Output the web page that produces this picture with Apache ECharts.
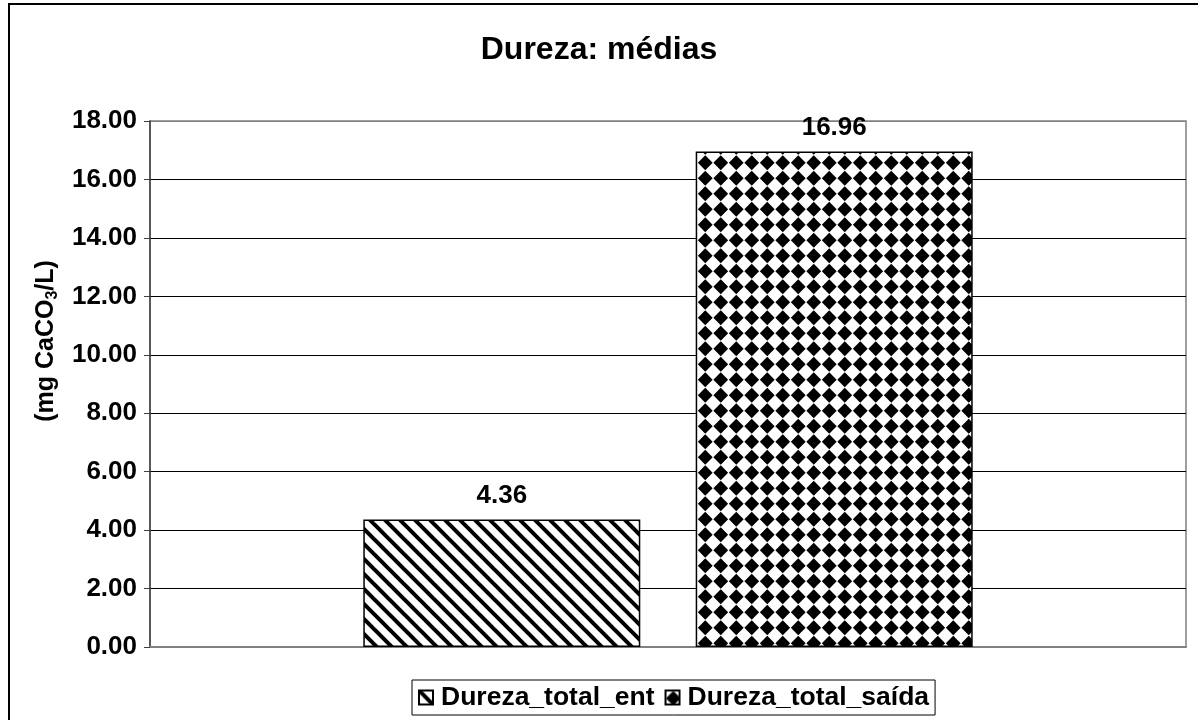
<!DOCTYPE html>
<html>
<head>
<meta charset="utf-8">
<title>Dureza: médias</title>
<script src="https://cdn.jsdelivr.net/npm/echarts@6/dist/echarts.min.js"></script>
<style>
  html, body { margin: 0; padding: 0; background: #fff; }
  #chart { width: 1198px; height: 720px; }
</style>
</head>
<body>
<div id="chart"></div>
<script>
// Mean hardness values (mg CaCO3/L)
const seriesNames = ['Dureza_total_ent', 'Dureza_total_saída'];
const entValues = [4.36];
const saidaValues = [16.96];
const categories = [''];
const yTicks = { min: 0, max: 18, interval: 2 };

const FONT = '"Liberation Sans", Arial, sans-serif';

// Diagonal hatch tile ("\" direction)
function stripePattern() {
  const P = 15;
  const c = document.createElement('canvas');
  c.width = P; c.height = P;
  const g = c.getContext('2d');
  g.fillStyle = '#fff';
  g.fillRect(0, 0, P, P);
  g.strokeStyle = '#000';
  g.lineWidth = 4;
  for (const off of [-P, 0, P]) {
    g.beginPath();
    g.moveTo(off - 2, -2);
    g.lineTo(off + P + 2, P + 2);
    g.stroke();
  }
  return c;
}

// Diamond lattice tile
function diamondPattern() {
  const P = 15.5;
  const c = document.createElement('canvas');
  c.width = 31; c.height = 31;
  const g = c.getContext('2d');
  g.fillStyle = '#fff';
  g.fillRect(0, 0, 31, 31);
  g.fillStyle = '#000';
  const h = 7.4;
  for (const cx of [P / 2, P * 1.5]) {
    for (const cy of [P / 2, P * 1.5]) {
      g.beginPath();
      g.moveTo(cx, cy - h);
      g.lineTo(cx + h, cy);
      g.lineTo(cx, cy + h);
      g.lineTo(cx - h, cy);
      g.closePath();
      g.fill();
    }
  }
  return c;
}

// Grid line colours: top line belongs to the plot frame (grey)
const splitColors = [];
for (let v = yTicks.min; v <= yTicks.max; v += yTicks.interval) {
  splitColors.push(v === yTicks.max ? '#808080' : '#000');
}

const chart = echarts.init(document.getElementById('chart'), null, { renderer: 'canvas' });

const labelStyle = {
  show: true,
  position: 'top',
  distance: 11,
  fontFamily: FONT,
  fontWeight: 'bold',
  fontSize: 26,
  color: '#000',
  formatter: p => p.value.toFixed(2)
};

const option = {
  backgroundColor: '#fff',
  animation: false,
  title: {
    text: 'Dureza: médias',
    left: 'center',
    top: 29,
    textStyle: { fontFamily: FONT, fontWeight: 'bold', fontSize: 32, color: '#000' }
  },
  graphic: [
    {
      type: 'rect',
      shape: { x: 9, y: 4, width: 1400, height: 900 },
      style: { fill: 'none', stroke: '#000', lineWidth: 2 },
      silent: true
    },
    {
      type: 'text',
      x: 46,
      y: 341,
      rotation: Math.PI / 2,
      style: {
        text: '(mg CaCO{sub|3}/L)',
        fontFamily: FONT,
        fontWeight: 'bold',
        fontSize: 25,
        fill: '#000',
        align: 'center',
        verticalAlign: 'middle',
        lineHeight: 30,
        rich: {
          sub: {
            fontFamily: FONT,
            fontWeight: 'bold',
            fontSize: 16,
            lineHeight: 16,
            verticalAlign: 'bottom'
          }
        }
      }
    }
  ],
  legend: {
    data: seriesNames,
    icon: 'rect',
    left: 412,
    top: 680,
    padding: [4, 6, 4, 6],
    borderColor: '#000',
    borderWidth: 1,
    itemWidth: 14,
    itemHeight: 14,
    itemGap: 10,
    textStyle: { fontFamily: FONT, fontWeight: 'bold', fontSize: 26.5, color: '#000', padding: [0, 0, 0, 3] }
  },
  grid: { left: 150, top: 121, right: 12, bottom: 73, show: true, borderColor: '#808080', borderWidth: 1.5 },
  xAxis: {
    type: 'category',
    data: categories,
    axisLine: { lineStyle: { color: '#808080', width: 2 } },
    axisTick: { show: false },
    axisLabel: { show: false }
  },
  yAxis: {
    type: 'value',
    min: yTicks.min,
    max: yTicks.max,
    interval: yTicks.interval,
    axisLine: { show: true, lineStyle: { color: '#404040', width: 1.5 } },
    axisTick: { show: true, length: 6, lineStyle: { color: '#404040' } },
    axisLabel: {
      margin: 13,
      fontFamily: FONT,
      fontWeight: 'bold',
      fontSize: 26,
      color: '#000',
      formatter: v => v.toFixed(2)
    },
    splitLine: { lineStyle: { color: splitColors, width: 1 } }
  },
  series: [
    {
      name: seriesNames[0],
      type: 'bar',
      data: entValues,
      barWidth: 277,
      barGap: '20%',
      itemStyle: {
        color: { image: stripePattern(), repeat: 'repeat' },
        borderColor: '#000',
        borderWidth: 1.5
      },
      label: labelStyle
    },
    {
      name: seriesNames[1],
      type: 'bar',
      data: saidaValues,
      barWidth: 277,
      itemStyle: {
        color: { image: diamondPattern(), repeat: 'repeat' },
        borderColor: '#000',
        borderWidth: 1.5
      },
      label: labelStyle
    }
  ]
};

chart.setOption(option);
</script>
</body>
</html>
